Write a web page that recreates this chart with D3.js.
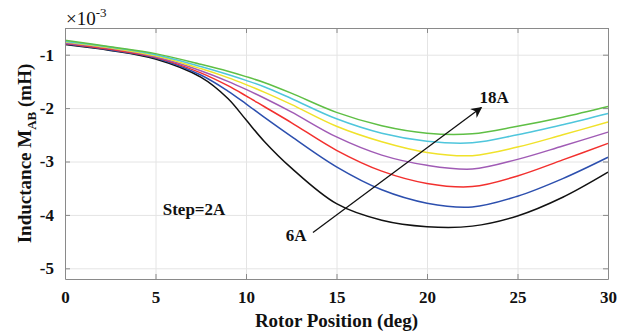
<!DOCTYPE html>
<html>
<head>
<meta charset="utf-8">
<script src="https://cdn.jsdelivr.net/npm/d3@7"></script>
<style>
  body { margin: 0; background: #fff; }
  svg text { font-family: "Liberation Serif", "Times New Roman", serif; }
</style>
</head>
<body>
<div class="chart"></div>
<script>
// rotor position (deg)
const positions = [0, 2.5, 5, 7.5, 9, 10, 11, 12.5, 15, 17.5, 20, 22.5, 25, 27.5, 30];

// mutual inductance (x 10^-3 mH), one array per current, 6A .. 18A
const i6A  = [-0.81, -0.92, -1.08, -1.42, -1.82, -2.22, -2.62, -3.12, -3.79, -4.10, -4.22, -4.21, -4.02, -3.67, -3.20];
const i8A  = [-0.80, -0.91, -1.06, -1.38, -1.68, -1.92, -2.17, -2.53, -3.10, -3.53, -3.78, -3.85, -3.65, -3.32, -2.92];
const i10A = [-0.79, -0.90, -1.05, -1.34, -1.58, -1.77, -1.97, -2.27, -2.79, -3.18, -3.41, -3.47, -3.27, -2.97, -2.66];
const i12A = [-0.78, -0.88, -1.04, -1.30, -1.50, -1.65, -1.81, -2.07, -2.54, -2.88, -3.07, -3.14, -2.96, -2.71, -2.45];
const i14A = [-0.76, -0.87, -1.02, -1.26, -1.43, -1.56, -1.70, -1.93, -2.34, -2.63, -2.83, -2.89, -2.73, -2.50, -2.26];
const i16A = [-0.75, -0.86, -1.00, -1.22, -1.37, -1.48, -1.60, -1.82, -2.20, -2.47, -2.62, -2.65, -2.50, -2.31, -2.10];
const i18A = [-0.73, -0.85, -0.98, -1.18, -1.31, -1.41, -1.52, -1.72, -2.08, -2.33, -2.47, -2.48, -2.34, -2.17, -1.97];

const seriesNames = ['6A', '8A', '10A', '12A', '14A', '16A', '18A'];
const seriesValues = [i6A, i8A, i10A, i12A, i14A, i16A, i18A];
const seriesColors = ['#111111', '#2c4fae', '#f2302e', '#a05bb5', '#f0e22a', '#4fc6dc', '#5fbf45'];

const xTicks = [0, 5, 10, 15, 20, 25, 30];
const yTicks = [-5, -4, -3, -2, -1];

const margin = { top: 28, right: 22, bottom: 54, left: 65 };
const width = 630 - margin.left - margin.right;
const height = 333 - margin.top - margin.bottom;

const svg = d3.select('.chart')
  .append('svg')
  .attr('width', 630)
  .attr('height', 333);

const g = svg.append('g')
  .attr('transform', `translate(${margin.left},${margin.top})`);

const x = d3.scaleLinear().domain([0, 30]).range([0, width]);
const y = d3.scaleLinear().domain([-5.2, -0.5]).range([height, 0]);

// grid
g.append('g')
  .attr('class', 'grid')
  .attr('transform', `translate(0,${height})`)
  .call(d3.axisBottom(x).tickValues(xTicks).tickSize(-height).tickFormat(''))
  .call(s => s.select('.domain').remove())
  .call(s => s.selectAll('line').attr('stroke', '#e4e4e4'));

g.append('g')
  .attr('class', 'grid')
  .call(d3.axisLeft(y).tickValues(yTicks).tickSize(-width).tickFormat(''))
  .call(s => s.select('.domain').remove())
  .call(s => s.selectAll('line').attr('stroke', '#e4e4e4'));

// curves
const line = d3.line()
  .x((d, i) => x(positions[i]))
  .y(d => y(d))
  .curve(d3.curveCatmullRom.alpha(0.5));

g.append('g')
  .selectAll('path')
  .data(seriesValues)
  .join('path')
  .attr('d', d => line(d))
  .attr('fill', 'none')
  .attr('stroke', (d, i) => seriesColors[i])
  .attr('stroke-width', 1.5);

// axes (box with inward ticks)
const styleAxis = s => {
  s.select('.domain').attr('stroke', '#8a8a8a');
  s.selectAll('.tick line').attr('stroke', '#8a8a8a');
  s.selectAll('.tick text')
    .attr('fill', '#111')
    .style('font-size', '17px')
    .style('font-weight', 'bold');
};

g.append('g')
  .attr('transform', `translate(0,${height})`)
  .call(d3.axisBottom(x).tickValues(xTicks).tickSizeInner(-5).tickSizeOuter(0).tickPadding(12).tickFormat(d => `${d}`))
  .call(styleAxis);

g.append('g')
  .call(d3.axisLeft(y).tickValues(yTicks).tickSizeInner(-5).tickSizeOuter(0).tickPadding(11).tickFormat(d => `${d}`))
  .call(styleAxis);

g.append('g')
  .call(d3.axisTop(x).tickValues(xTicks).tickSizeInner(-5).tickSizeOuter(0).tickFormat(''))
  .call(styleAxis);

g.append('g')
  .attr('transform', `translate(${width},0)`)
  .call(d3.axisRight(y).tickValues(yTicks).tickSizeInner(-5).tickSizeOuter(0).tickFormat(''))
  .call(styleAxis);

// exponent
const expo = svg.append('text')
  .attr('x', margin.left + 1)
  .attr('y', 25)
  .attr('fill', '#111')
  .style('font-size', '19px');
expo.append('tspan').text('\u00d710');
expo.append('tspan').attr('dy', -8).style('font-size', '13px').text('-3');

// axis titles
svg.append('text')
  .attr('x', margin.left + width / 2)
  .attr('y', 327)
  .attr('text-anchor', 'middle')
  .attr('fill', '#111')
  .style('font-size', '19px')
  .style('font-weight', 'bold')
  .text('Rotor Position (deg)');

const ylab = svg.append('text')
  .attr('transform', `translate(31,${margin.top + height / 2}) rotate(-90)`)
  .attr('text-anchor', 'middle')
  .attr('fill', '#111')
  .style('font-size', '19px')
  .style('font-weight', 'bold');
ylab.append('tspan').text('Inductance M');
ylab.append('tspan').attr('dy', 5).style('font-size', '13px').text('AB');
ylab.append('tspan').attr('dy', -5).text('\u00a0(mH)');

// annotations
const defs = svg.append('defs');
defs.append('marker')
  .attr('id', 'arrowhead')
  .attr('viewBox', '0 0 10 10')
  .attr('refX', 9)
  .attr('refY', 5)
  .attr('markerWidth', 11)
  .attr('markerHeight', 11)
  .attr('markerUnits', 'userSpaceOnUse')
  .attr('orient', 'auto')
  .append('path')
  .attr('d', 'M0,0 L10,5 L0,10 L3,5 Z')
  .attr('fill', '#111');

const arrowFrom = [13.7, -4.33];
const arrowTo = [23.0, -1.99];

g.append('line')
  .attr('x1', x(arrowFrom[0]))
  .attr('y1', y(arrowFrom[1]))
  .attr('x2', x(arrowTo[0]))
  .attr('y2', y(arrowTo[1]))
  .attr('stroke', '#111')
  .attr('stroke-width', 1.3)
  .attr('marker-end', 'url(#arrowhead)');

const label = (tx, ty, txt, anchor) => g.append('text')
  .attr('x', x(tx))
  .attr('y', y(ty))
  .attr('text-anchor', anchor)
  .attr('fill', '#111')
  .style('font-size', '17px')
  .style('font-weight', 'bold')
  .text(txt);

label(13.35, -4.48, '6A', 'end');
label(22.9, -1.9, '18A', 'start');
label(5.4, -4.0, 'Step=2A', 'start');
</script>
</body>
</html>
